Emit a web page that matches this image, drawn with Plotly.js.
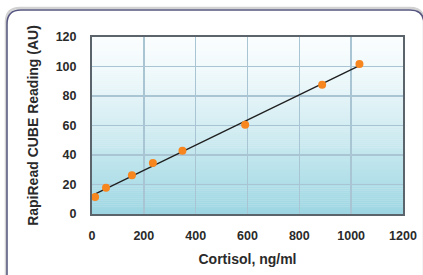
<!DOCTYPE html>
<html>
<head>
<meta charset="utf-8">
<script src="https://cdn.plot.ly/plotly-3.0.1.min.js"></script>
<style>html,body{margin:0;padding:0;background:#fff;}#chart{width:423px;height:275px;}</style>
</head>
<body>
<div id="chart"></div>
<script>
// Data
const cortisol = [12, 54, 154, 235, 349, 591, 888, 1032];
const reading = [11.5, 17.8, 26.2, 34.6, 42.9, 60.5, 87.7, 101.7];
const xTicks = [0, 200, 400, 600, 800, 1000, 1200];
const yTicks = [0, 20, 40, 60, 80, 100, 120];
const xTitle = 'Cortisol, ng/ml';
const yTitle = 'RapiRead CUBE Reading (AU)';

// least-squares trend line through the data
const n = cortisol.length;
const mx = cortisol.reduce((a,b)=>a+b,0)/n;
const my = reading.reduce((a,b)=>a+b,0)/n;
let sxy = 0, sxx = 0;
for (let i=0;i<n;i++){ sxy += (cortisol[i]-mx)*(reading[i]-my); sxx += (cortisol[i]-mx)**2; }
const slope = sxy/sxx, icpt = my - slope*mx;
const lineX = [Math.min(...cortisol)-3, Math.max(...cortisol)];
const lineY = lineX.map(x => icpt + slope*x);

// layout geometry (pixels)
const W = 423, H = 275;
const mL = 92, mR = 20, mT = 37, mB = 61;
const pw = W - mL - mR, ph = H - mT - mB;
const px = v => (v - mL) / pw;
const py = v => (H - mB - v) / ph;

function roundRect(L, T, R, B, r) {
  const p = (x, y) => px(x) + ',' + py(y);
  return 'M' + p(L, T + r) + ' Q' + p(L, T) + ' ' + p(L + r, T) +
    ' L' + p(R - r, T) + ' Q' + p(R, T) + ' ' + p(R, T + r) +
    ' L' + p(R, B - r) + ' Q' + p(R, B) + ' ' + p(R - r, B) +
    ' L' + p(L + r, B) + ' Q' + p(L, B) + ' ' + p(L, B - r) + ' Z';
}

const shapes = [];
// gradient background bands
const nb = 90;
function lerp(a, b, t) { return Math.round(a + (b - a) * t); }
const gTop = [250, 253, 254], gBot = [156, 214, 226];
for (let i = 0; i < nb; i++) {
  const t = (i + 0.5) / nb; // 0 top -> 1 bottom
  const tt = Math.pow(t, 1.3);
  const c = 'rgb(' + lerp(gTop[0], gBot[0], tt) + ',' + lerp(gTop[1], gBot[1], tt) + ',' + lerp(gTop[2], gBot[2], tt) + ')';
  shapes.push({type: 'rect', xref: 'paper', yref: 'paper', x0: 0, x1: 1,
    y0: 1 - (i + 1) / nb - 0.002, y1: 1 - i / nb, fillcolor: c, line: {width: 0}, layer: 'below'});
}
// frame shadow + frame
shapes.push({type: 'path', xref: 'paper', yref: 'paper', path: roundRect(6, 8, 424, 290, 14),
  line: {color: '#d2d2d2', width: 2.5}, layer: 'below'});
shapes.push({type: 'path', xref: 'paper', yref: 'paper', path: roundRect(7, 10, 424, 290, 14),
  line: {color: '#55557f', width: 1.5}, layer: 'below'});

const fam = 'Arial, "Liberation Sans", sans-serif';

const traces = [
  {x: lineX, y: lineY, type: 'scatter', mode: 'lines', line: {color: '#1f1f1f', width: 1.3},
   hoverinfo: 'skip', showlegend: false},
  {x: cortisol, y: reading, type: 'scatter', mode: 'markers',
   marker: {color: '#f7861f', size: 8, line: {width: 0}}, showlegend: false}
];

const layout = {
  width: W, height: H,
  margin: {l: mL, r: mR, t: mT, b: mB, pad: 0},
  paper_bgcolor: '#ffffff',
  plot_bgcolor: 'rgba(0,0,0,0)',
  showlegend: false,
  font: {family: fam, size: 12, color: '#2a2a2a'},
  xaxis: {
    range: [0, 1200], tickvals: xTicks, ticktext: xTicks.map(String),
    showgrid: true, gridcolor: '#a9c5d4', gridwidth: 1.5,
    zeroline: false, showline: true, mirror: true, linecolor: '#5b646b', linewidth: 2,
    ticks: 'outside', ticklen: 9, tickcolor: 'rgba(0,0,0,0)',
    tickfont: {family: fam, size: 12.5, color: '#2a2a2a', weight: 'bold'},
    title: {text: xTitle, standoff: 12, font: {family: fam, size: 14, color: '#2a2a2a', weight: 'bold'}},
    automargin: false, fixedrange: true
  },
  yaxis: {
    range: [0, 120], tickvals: yTicks, ticktext: yTicks.map(String),
    showgrid: true, gridcolor: '#a9c5d4', gridwidth: 1.5,
    zeroline: false, showline: true, mirror: true, linecolor: '#5b646b', linewidth: 2,
    ticks: 'outside', ticklen: 11, tickcolor: 'rgba(0,0,0,0)',
    tickfont: {family: fam, size: 12.5, color: '#2a2a2a', weight: 'bold'},
    title: {text: yTitle, standoff: 14, font: {family: fam, size: 14, color: '#2a2a2a', weight: 'bold'}},
    automargin: false, fixedrange: true
  },
  shapes: shapes
};

Plotly.newPlot('chart', traces, layout, {displayModeBar: false, staticPlot: true});
</script>
</body>
</html>
